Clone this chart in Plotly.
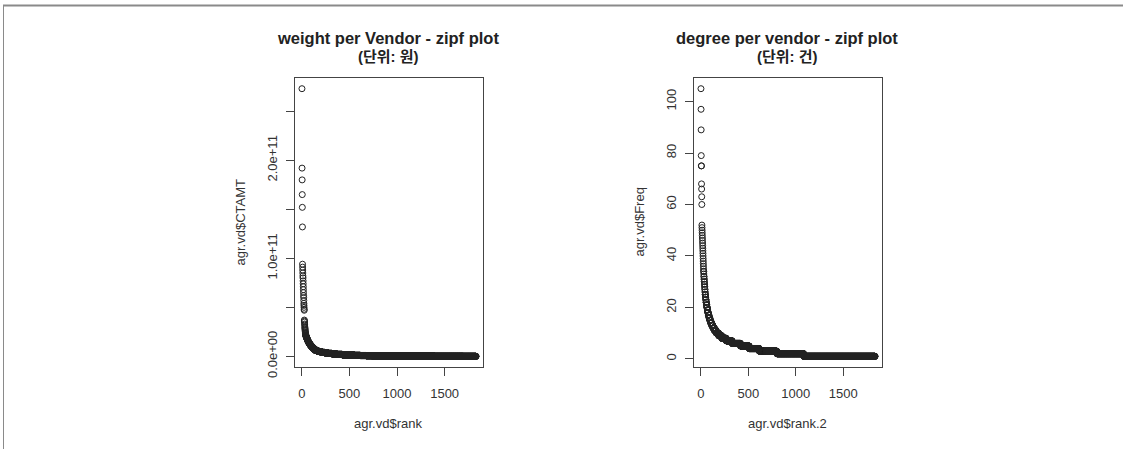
import numpy as np
import plotly.graph_objects as go

W, H = 1123, 449

# ---- data: vendors ranked by total amount (CTAMT, in units of 1e9 won) ----
ctamt_head = [273, 192, 180, 165, 152, 132, 94, 91, 88, 85, 82, 80, 77, 74, 71,
              68, 65, 62, 60, 57, 54, 52, 50, 48, 47, 37, 36, 35, 33, 32,
              30, 29, 28, 27, 26, 25, 24, 23.5, 23, 22]
ctamt_tail_levels = [21, 20, 19, 18, 17, 16, 15, 14, 13,
                     12, 11, 10, 9, 8, 7, 6,
                     5.5, 5, 4.5, 4, 3.5, 3,
                     2.5, 2, 1.5,
                     1.2, 1.0, 0.8, 0.6, 0.5,
                     0.4, 0.3, 0.2, 0.1, 0.05]
ctamt_tail_counts = [4, 4, 4, 4, 4, 5, 5, 6, 7,
                     7, 8, 9, 10, 11, 13, 15,
                     15, 18, 22, 28, 35, 40,
                     50, 60, 70,
                     60, 60, 60, 60, 60,
                     150, 200, 250, 300, 136]
CTAMT_UNIT = 1e9

# ---- data: vendors ranked by number of transactions (Freq) ----
freq_head = [105, 97, 89, 79, 75, 75, 68, 66, 63, 60, 52, 51, 50, 49, 48, 47,
             46, 45, 44, 43, 42, 41, 40, 39, 38, 37]
freq_tail_levels = [36, 35, 34, 33, 32, 31, 30, 29, 28, 27, 26, 25, 24, 23,
                    22, 21, 20, 19, 18, 17, 16, 15, 14, 13, 12, 11, 10, 9,
                    8, 7, 6, 5, 4, 3, 2, 1]
freq_tail_counts = [1, 1, 2, 1, 2, 2, 2, 2, 2, 2, 2, 3, 3, 3,
                    4, 4, 5, 5, 6, 7, 8, 9, 11, 13, 16, 20, 25, 32,
                    48, 62, 88, 92, 106, 185, 283, 752]

ctamt = np.concatenate([ctamt_head,
                        np.repeat(ctamt_tail_levels, ctamt_tail_counts)]) * CTAMT_UNIT
freq = np.concatenate([freq_head, np.repeat(freq_tail_levels, freq_tail_counts)])
rank = np.arange(1, len(ctamt) + 1)
rank2 = np.arange(1, len(freq) + 1)

x_ticks = [0, 500, 1000, 1500]
ctamt_ticks = [0, 5e10, 1e11, 1.5e11, 2e11, 2.5e11]
ctamt_ticktext = ["0.0e+00", "", "1.0e+11", "", "2.0e+11", ""]
freq_ticks = [0, 20, 40, 60, 80, 100]


def r_range(v):
    lo, hi = float(np.min(v)), float(np.max(v))
    pad = 0.04 * (hi - lo)
    return [lo - pad, hi + pad]


def px_x(x):
    return x / W


def px_y(y):
    return (H - y) / H


BOX_TOP, BOX_BOTTOM = 78, 367
LEFT_BOX = (295, 483)
RIGHT_BOX = (694, 882)

FONT = "Liberation Sans, Arial, sans-serif"
KFONT = "Liberation Sans, Noto Sans CJK KR, sans-serif"
INK = "#222222"

fig = go.Figure()
marker = dict(symbol="circle-open", size=6, color=INK, line=dict(width=1, color=INK))
fig.add_trace(go.Scatter(x=rank, y=ctamt, mode="markers", marker=marker,
                         xaxis="x", yaxis="y", showlegend=False, hoverinfo="x+y"))
fig.add_trace(go.Scatter(x=rank2, y=freq, mode="markers", marker=marker,
                         xaxis="x2", yaxis="y2", showlegend=False, hoverinfo="x+y"))

axis_common = dict(showline=True, mirror=True, linecolor="#444444", linewidth=1,
                   ticks="outside", ticklen=8, tickcolor="#444444", tickwidth=1,
                   showgrid=False, zeroline=False, automargin=False,
                   tickfont=dict(family=FONT, size=13, color="#333333"))

ydom = [px_y(BOX_BOTTOM), px_y(BOX_TOP)]
fig.update_layout(
    width=W, height=H, autosize=False,
    margin=dict(l=0, r=0, t=0, b=0, pad=0),
    paper_bgcolor="white", plot_bgcolor="white",
    xaxis=dict(domain=[px_x(LEFT_BOX[0]), px_x(LEFT_BOX[1])], range=r_range(rank),
               tickvals=x_ticks, anchor="y", ticklabelstandoff=6, **axis_common),
    yaxis=dict(domain=ydom, range=r_range(ctamt), tickvals=ctamt_ticks,
               ticktext=ctamt_ticktext, tickangle=-90, anchor="x",
               ticklabelstandoff=4, **axis_common),
    xaxis2=dict(domain=[px_x(RIGHT_BOX[0]), px_x(RIGHT_BOX[1])], range=r_range(rank2),
                tickvals=x_ticks, anchor="y2", ticklabelstandoff=6, **axis_common),
    yaxis2=dict(domain=ydom, range=r_range(freq), tickvals=freq_ticks,
                tickangle=-90, anchor="x2", ticklabelstandoff=4, **axis_common),
)

annotations = []
for box, title, unit, xlab, ylab in [
    (LEFT_BOX, "weight per Vendor - zipf plot", "(단위: 원)", "agr.vd$rank", "agr.vd$CTAMT"),
    (RIGHT_BOX, "degree per vendor - zipf plot", "(단위: 건)", "agr.vd$rank.2", "agr.vd$Freq"),
]:
    cx = (box[0] + box[1]) / 2 - 1
    annotations += [
        dict(x=px_x(cx), y=px_y(38), xref="paper", yref="paper", showarrow=False,
             text="<b>%s</b>" % title, font=dict(family=FONT, size=16.5, color="#222222"),
             xanchor="center", yanchor="middle"),
        dict(x=px_x(cx), y=px_y(57), xref="paper", yref="paper", showarrow=False,
             text="<b>%s</b>" % unit, font=dict(family=KFONT, size=15, color="#222222"),
             xanchor="center", yanchor="middle"),
        dict(x=px_x(cx), y=px_y(423), xref="paper", yref="paper", showarrow=False,
             text=xlab, font=dict(family=FONT, size=13, color="#333333"),
             xanchor="center", yanchor="middle"),
        dict(x=px_x(box[0] - 55), y=px_y((BOX_TOP + BOX_BOTTOM) / 2), xref="paper",
             yref="paper", showarrow=False, text=ylab, textangle=-90,
             font=dict(family=FONT, size=13, color="#333333"),
             xanchor="center", yanchor="middle"),
    ]
fig.update_layout(annotations=annotations)

# window frame lines along the top and left edges
fig.update_layout(shapes=[
    dict(type="line", xref="paper", yref="paper", x0=px_x(3), x1=1,
         y0=px_y(5.5), y1=px_y(5.5), line=dict(color="#8a8a8a", width=2)),
    dict(type="line", xref="paper", yref="paper", x0=px_x(3.5), x1=px_x(3.5),
         y0=px_y(5), y1=0, line=dict(color="#8a8a8a", width=1)),
])

fig.write_html("out.html")
